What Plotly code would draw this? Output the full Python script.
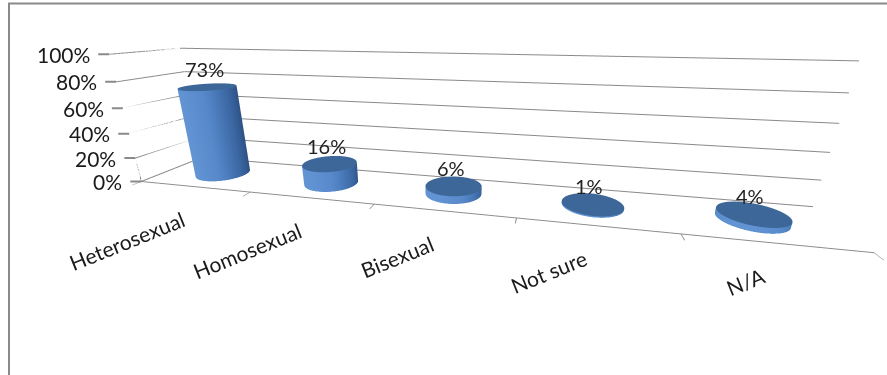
import numpy as np
import plotly.graph_objects as go

# Survey answers and their shares (percent)
categories = ["Heterosexual", "Homosexual", "Bisexual", "Not sure", "N/A"]
shares = [73, 16, 6, 1, 4]
share_labels = ["73%", "16%", "6%", "1%", "4%"]
value_ticks = [0, 20, 40, 60, 80, 100]
value_tick_text = ["0%", "20%", "40%", "60%", "80%", "100%"]

# Scene proportions, in category-width units
DEPTH = 0.676     # floor depth
HEIGHT = 0.986    # height of the 100% level
RADIUS = 0.21     # cylinder radius
UNIT = 0.6047     # aspect-ratio units per category width
N_SEG = 72
X_LO, X_HI = -0.5, len(categories) - 0.5

SIDE_SCALE = [[0.0, "#2b4d7e"], [0.3, "#3b67a3"], [0.7, "#5688ca"], [1.0, "#6294d4"]]
CAP_COLOR = "#3d6798"
GRID = "#8a8a8a"
FLAT = dict(ambient=1, diffuse=0, specular=0, roughness=1, fresnel=0)
FONT = "Lato"

fig = go.Figure()

# back wall and left wall gridlines, plus the front left edge
bx, by, bz = [], [], []
lx, ly, lz = [], [], []
for t in value_ticks:
    bx += [X_LO, X_HI, None]; by += [DEPTH, DEPTH, None]; bz += [t, t, None]
    lx += [X_LO, X_LO, None]; ly += [0, DEPTH, None]; lz += [t, t, None]
lx += [X_LO, X_LO]; ly += [0, 0]; lz += [value_ticks[0], value_ticks[-1]]
for xs_, ys_, zs_ in ((bx, by, bz), (lx, ly, lz)):
    fig.add_trace(go.Scatter3d(x=xs_, y=ys_, z=zs_, mode="lines",
                               line=dict(color=GRID, width=2), hoverinfo="skip"))


def cylinder(cx, cy, h):
    t = np.linspace(0, 2 * np.pi, N_SEG, endpoint=False)
    xs = cx + RADIUS * np.cos(t)
    ys = cy + RADIUS * np.sin(t)
    X = np.concatenate([xs, xs])
    Y = np.concatenate([ys, ys])
    Z = np.concatenate([np.zeros(N_SEG), np.full(N_SEG, float(h))])
    i, j, k = [], [], []
    for s in range(N_SEG):
        a, b = s, (s + 1) % N_SEG
        i += [a, b]
        j += [b, b + N_SEG]
        k += [a + N_SEG, a + N_SEG]
    # light falls from the front left
    shade = np.cos(t - np.deg2rad(-125))
    side = go.Mesh3d(x=X, y=Y, z=Z, i=i, j=j, k=k,
                     intensity=np.concatenate([shade, shade]),
                     colorscale=SIDE_SCALE, cmin=-1, cmax=1, showscale=False,
                     flatshading=False, lighting=FLAT, hoverinfo="skip")
    Xc = np.concatenate([[cx], xs])
    Yc = np.concatenate([[cy], ys])
    Zc = np.full(N_SEG + 1, float(h))
    cap = go.Mesh3d(x=Xc, y=Yc, z=Zc,
                    i=[0] * N_SEG,
                    j=[1 + s for s in range(N_SEG)],
                    k=[1 + (s + 1) % N_SEG for s in range(N_SEG)],
                    color=CAP_COLOR, lighting=FLAT, hoverinfo="skip")
    return side, cap


for idx, v in enumerate(shares):
    side, cap = cylinder(idx, DEPTH / 2, v)
    fig.add_trace(side)
    fig.add_trace(cap)

annotations = []
# value axis labels with their tick marks
for t, txt in zip(value_ticks, value_tick_text):
    annotations.append(dict(x=X_LO, y=0, z=t, text=txt, showarrow=True, arrowhead=0,
                            arrowwidth=2, arrowcolor=GRID, ax=-11, ay=0,
                            xanchor="right", yanchor="middle", borderpad=7,
                            font=dict(family=FONT, size=21, color="#1a1a1a")))
for idx, (v, lab) in enumerate(zip(shares, share_labels)):
    annotations.append(dict(x=idx, y=DEPTH / 2, z=v, text=lab, showarrow=False,
                            yshift=18, xshift=-3,
                            font=dict(family=FONT, size=20, color="#222222")))
for idx, cat in enumerate(categories):
    annotations.append(dict(x=idx, y=0, z=0, text=cat, showarrow=False, textangle=-22,
                            xanchor="right", yanchor="top", yshift=-17, xshift=-3,
                            font=dict(family=FONT, size=21, color="#1a1a1a")))

axis_common = dict(showbackground=False, showspikes=False, title=dict(text=""), zeroline=False)
fig.update_layout(
    width=887, height=375, margin=dict(l=0, r=0, t=0, b=0),
    paper_bgcolor="white", showlegend=False,
    scene=dict(
        domain=dict(x=[0, 1], y=[0, 1]),
        xaxis=dict(range=[X_LO, X_HI], tickvals=[x + 0.5 for x in range(-1, len(categories))],
                   showticklabels=False, showgrid=False, showline=True, linecolor=GRID,
                   linewidth=2, ticks="outside", ticklen=8, tickcolor=GRID, tickwidth=2,
                   **axis_common),
        yaxis=dict(range=[0, DEPTH], showticklabels=False, showgrid=False, showline=True,
                   linecolor=GRID, linewidth=2, ticks="", **axis_common),
        zaxis=dict(range=[0, 100], showticklabels=False, showgrid=False, showline=False,
                   ticks="", **axis_common),
        aspectmode="manual",
        aspectratio=dict(x=5 * UNIT, y=DEPTH * UNIT, z=HEIGHT * UNIT),
        camera=dict(eye=dict(x=0.4049, y=-1.8738, z=0.4574),
                    center=dict(x=-0.0467, y=0, z=-0.2746),
                    up=dict(x=-0.0154, y=-0.0125, z=1),
                    projection=dict(type="perspective")),
        annotations=annotations,
    ),
    shapes=[dict(type="rect", xref="paper", yref="paper", x0=9 / 887, x1=1.2,
                 y0=-0.2, y1=1 - 3.5 / 375, line=dict(color=GRID, width=2),
                 layer="above")],
)

fig.write_html("out.html")
